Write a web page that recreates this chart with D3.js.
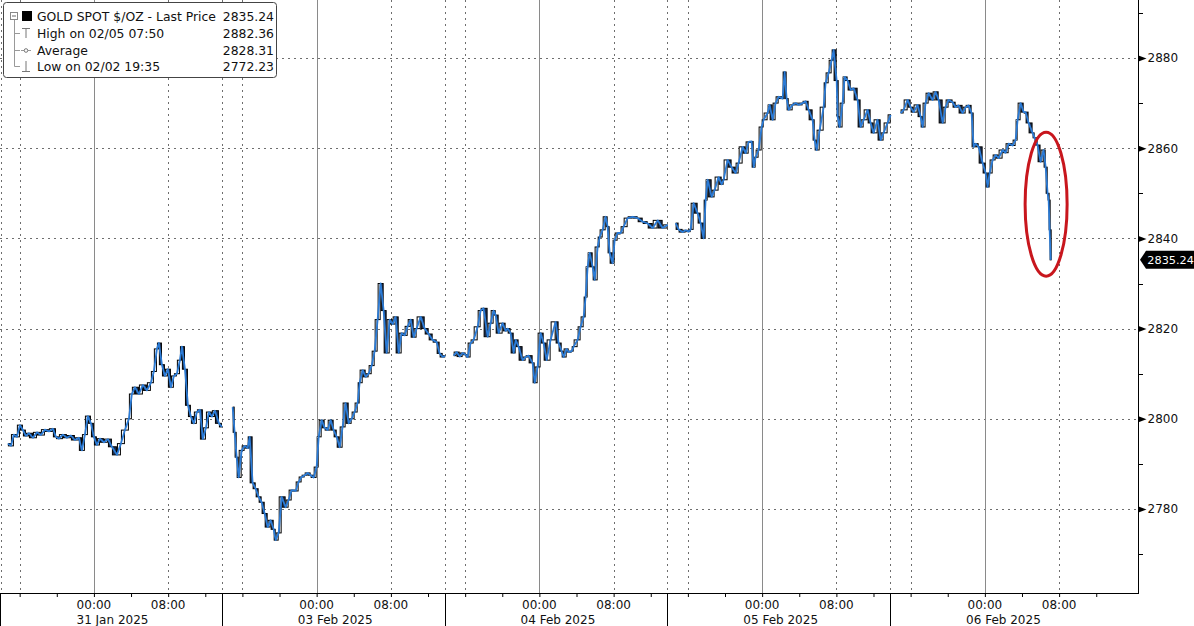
<!DOCTYPE html>
<html><head><meta charset="utf-8">
<script src="https://cdn.jsdelivr.net/npm/d3@7"></script>
<style>
body{margin:0;background:#fff;}
svg{display:block;font-family:"DejaVu Sans",Verdana,sans-serif;}
</style>
</head><body>
<svg id="chart" width="1194" height="626"></svg>
<script>
// ---------------- DATA ----------------
// trading sessions (each opens ~13:48 local of the previous calendar day)
const sessionLabels = ["31 Jan 2025", "03 Feb 2025", "04 Feb 2025", "05 Feb 2025", "06 Feb 2025"];
const hourLabels = ["00:00", "08:00"];
const hourLabelHours = [0, 8];
const yTicks = [2780, 2800, 2820, 2840, 2860, 2880];
const yMinorTicks = [2770, 2790, 2810, 2830, 2850, 2870, 2890];
const legendLabels = ["GOLD SPOT $/OZ - Last Price", "High on 02/05 07:50", "Average", "Low on 02/02 19:35"];
const legendValues = ["2835.24", "2882.36", "2828.31", "2772.23"];
const lastPrice = 2835.24;

// [hours relative to the session's midnight (negative = previous evening), price]
const jan31 = [[-9.27,2794.5],[-8.94,2794],[-8.62,2796.5],[-8.30,2796],[-7.97,2798.6],[-7.65,2797.5],[-7.33,2796.2],[-7.00,2796.8],[-6.57,2795.8],[-6.14,2797],[-5.71,2796.4],[-5.28,2797.6],[-4.85,2797.2],[-4.42,2797.8],[-4.09,2796],[-3.77,2795.6],[-3.34,2796.5],[-2.91,2795.8],[-2.48,2796.3],[-2.05,2795.3],[-1.62,2795.8],[-1.29,2793],[-0.97,2796.5],[-0.65,2800.6],[-0.32,2799],[0,2796],[0.32,2794.2],[0.65,2795.6],[1.08,2794.8],[1.51,2795.5],[1.94,2793.8],[2.48,2792],[2.91,2794.5],[3.34,2797.5],[3.77,2800],[4.09,2805.5],[4.42,2807],[4.85,2805.5],[5.28,2807.5],[5.71,2806.3],[6.14,2808],[6.46,2810.5],[6.79,2815.5],[7.00,2816.8],[7.33,2812],[7.65,2809.5],[7.97,2811],[8.30,2807],[8.62,2809.5],[8.94,2810],[9.27,2813],[9.48,2816],[9.81,2811],[10.13,2803],[10.45,2800.5],[10.77,2799],[11.10,2801.5],[11.42,2802],[11.74,2795.5],[12.07,2798],[12.39,2801.5],[12.71,2800.5],[13.04,2801.8],[13.47,2799],[13.79,2798.2]];
const feb03 = [[-9.05,2802.6],[-8.84,2797],[-8.62,2791.5],[-8.40,2787],[-8.08,2793],[-7.76,2794],[-7.43,2793.5],[-7.22,2796],[-6.90,2785.8],[-6.57,2784.5],[-6.25,2782.7],[-5.93,2781.5],[-5.60,2779],[-5.28,2776],[-4.96,2777.5],[-4.63,2775.5],[-4.42,2773.1],[-4.09,2774.7],[-3.77,2782.7],[-3.34,2780.4],[-3.02,2782],[-2.69,2784.2],[-2.26,2784],[-1.94,2786],[-1.62,2787.1],[-1.29,2787.5],[-0.97,2788],[-0.65,2787.5],[-0.32,2787],[0,2789.3],[0.22,2796],[0.54,2799.7],[0.86,2798],[1.19,2797.5],[1.51,2799.7],[1.83,2797.5],[2.16,2796],[2.48,2793.7],[2.80,2798.2],[3.12,2803.5],[3.45,2799],[3.77,2800],[4.09,2801.5],[4.42,2803.5],[4.63,2808],[4.96,2810.8],[5.28,2809.3],[5.60,2810],[5.93,2811.8],[6.25,2815],[6.57,2822],[6.90,2830],[7.22,2824],[7.54,2814.6],[7.87,2822],[8.19,2821],[8.51,2822.6],[8.84,2814.6],[9.16,2819],[9.48,2818.5],[9.81,2820.5],[10.13,2822],[10.45,2818.1],[10.77,2820],[11.21,2822.6],[11.64,2820],[12.07,2818.8],[12.50,2817.5],[12.93,2817],[13.25,2814.5],[13.58,2813.7],[13.85,2814]];
const feb04 = [[-9.24,2814],[-8.92,2814.8],[-8.59,2813.8],[-8.27,2814.6],[-7.95,2814.2],[-7.73,2813.7],[-7.41,2816.8],[-7.08,2817.5],[-6.65,2820.4],[-6.33,2824],[-6.01,2824.5],[-5.58,2818.2],[-5.25,2821.2],[-4.93,2824],[-4.71,2823],[-4.39,2819],[-3.96,2821.2],[-3.64,2819.5],[-3.42,2820],[-3.10,2819],[-2.77,2814.6],[-2.56,2817.5],[-2.24,2816],[-1.81,2813],[-1.48,2813.7],[-1.16,2814],[-0.73,2812.4],[-0.51,2808],[-0.19,2811.5],[0.13,2819],[0.46,2816.8],[0.78,2813],[1.21,2817.5],[1.75,2821.5],[2.07,2816.8],[2.40,2815],[2.61,2813.7],[2.94,2815.5],[3.15,2814.8],[3.48,2815],[3.69,2816],[4.12,2817.5],[4.44,2820.4],[4.77,2822.6],[4.98,2827],[5.20,2833.7],[5.42,2836.8],[5.74,2833.7],[5.95,2830.8],[6.28,2838.1],[6.49,2840.3],[6.82,2841.9],[7.14,2844.8],[7.35,2842.6],[7.57,2836.8],[7.89,2834.5],[8.11,2839.6],[8.43,2841.2],[8.75,2841.2],[9.08,2842.6],[9.51,2844.5],[10.05,2844.8],[10.59,2844.5],[11.13,2843.7],[11.67,2843.3],[12.21,2842.3],[12.74,2844],[13.28,2842.3],[13.82,2843]];
const feb05 = [[-9.32,2843.4],[-9.00,2842],[-8.57,2841.4],[-8.24,2841.8],[-7.92,2841.5],[-7.70,2842],[-7.38,2847.8],[-6.95,2845.6],[-6.63,2843.4],[-6.30,2840],[-6.09,2848.5],[-5.87,2853],[-5.44,2849.2],[-5.12,2850.7],[-4.69,2853.6],[-4.36,2852],[-4.15,2853],[-3.72,2857.4],[-3.29,2855.8],[-2.86,2854.5],[-2.53,2856.7],[-2.10,2860.3],[-1.78,2858.9],[-1.45,2861.4],[-1.13,2861.5],[-0.92,2855.8],[-0.70,2858],[-0.38,2859.6],[-0.05,2864.7],[0.16,2866.3],[0.59,2867.8],[0.81,2869.6],[1.13,2866.3],[1.45,2870],[1.78,2871.4],[2.21,2871],[2.42,2876.9],[2.64,2871],[2.86,2868.5],[3.29,2869.6],[3.61,2870],[3.93,2869.6],[4.36,2870],[4.69,2870.4],[5.01,2868.5],[5.44,2866.3],[5.66,2861.8],[5.87,2859.6],[6.20,2864],[6.63,2869.1],[6.84,2874.5],[7.17,2876.7],[7.49,2879.5],[7.70,2881.8],[8.03,2875],[8.14,2867],[8.35,2864.7],[8.67,2870],[8.89,2875.8],[9.21,2875],[9.54,2872.9],[9.86,2873.3],[10.29,2870.7],[10.61,2864.7],[10.94,2866.3],[11.37,2868.5],[11.69,2865.6],[12.01,2863.4],[12.44,2866.3],[12.77,2861.8],[13.09,2863.4],[13.52,2865.6],[13.85,2867.4]];
const feb06 = [[-9.08,2867.8],[-8.75,2868.5],[-8.32,2870.7],[-8.00,2869.1],[-7.68,2868],[-7.25,2869.6],[-6.92,2867],[-6.71,2864.7],[-6.39,2870],[-6.06,2872.2],[-5.63,2870.7],[-5.31,2872.5],[-4.98,2870.7],[-4.55,2865.6],[-4.23,2869.1],[-3.91,2870.7],[-3.48,2870.2],[-3.15,2869.1],[-2.83,2869.5],[-2.40,2867.8],[-2.07,2869.1],[-1.75,2869.5],[-1.43,2867.8],[-1.21,2860.3],[-1.00,2861],[-0.67,2860.3],[-0.24,2856.7],[0.08,2854.5],[0.30,2851.4],[0.51,2854.5],[0.84,2857.4],[1.16,2858.5],[1.48,2857.8],[1.91,2859.6],[2.23,2859],[2.56,2861],[2.99,2860.6],[3.31,2861.8],[3.53,2866.3],[3.85,2870],[4.18,2868],[4.39,2868],[4.71,2865.6],[5.14,2863.4],[5.36,2862.3],[5.68,2860.7],[6.00,2857],[6.33,2859.6],[6.55,2855.8],[6.76,2850],[6.87,2848.5],[6.98,2841.9],[7.09,2835.24]];
const seriesBySession = [jan31, feb03, feb04, feb05, feb06];

// ---------------- CHART ----------------
const svg = d3.select("#chart");
const plotR = 1138, plotB = 593;
const OPEN_TO_MIDNIGHT = 10.2;            // hours from session open to 00:00
const tpos = (s, h) => s * 24 + OPEN_TO_MIDNIGHT + h;
const x = d3.scaleLinear().domain([0, 122.7]).range([-0.75, plotR]);
const y = d3.scaleLinear().domain([2761.6, 2892.86]).range([592, 0]);

svg.append("rect").attr("width", 1194).attr("height", 626).attr("fill", "#fff");

const grid = svg.append("g");
grid.selectAll("line.h").data(yTicks).join("line")
  .attr("x1", 0).attr("x2", plotR)
  .attr("y1", d => Math.round(y(d)) + 0.5).attr("y2", d => Math.round(y(d)) + 0.5)
  .attr("stroke", "#6e6e6e").attr("stroke-dasharray", "2,4");

const vDotted = [], vSolid = [];
sessionLabels.forEach((lab, s) => {
  vDotted.push(Math.max(0.5, x(tpos(s, -OPEN_TO_MIDNIGHT))));
  vDotted.push(x(tpos(s, -8)));
  vDotted.push(x(tpos(s, 8)));
  vSolid.push(x(tpos(s, 0)));
});
grid.selectAll("line.vd").data(vDotted).join("line")
  .attr("x1", d => Math.round(d) + 0.5).attr("x2", d => Math.round(d) + 0.5)
  .attr("y1", 0).attr("y2", plotB)
  .attr("stroke", "#6e6e6e").attr("stroke-dasharray", "2,4");
grid.selectAll("line.vs").data(vSolid).join("line")
  .attr("x1", d => Math.round(d) + 0.5).attr("x2", d => Math.round(d) + 0.5)
  .attr("y1", 0).attr("y2", plotB)
  .attr("stroke", "#8a8a8a");

const marks = svg.append("g");
seriesBySession.forEach((data, s) => {
  const bars = [];
  for (let i = 1; i < data.length; i++) {
    bars.push({t0: data[i - 1][0], t1: data[i][0], o: data[i - 1][1], c: data[i][1]});
  }
  marks.append("g").selectAll("rect").data(bars).join("rect")
    .attr("x", d => x(tpos(s, d.t0)) + 0.5)
    .attr("width", d => Math.max(1, x(tpos(s, d.t1)) - x(tpos(s, d.t0)) - 1))
    .attr("y", d => y(Math.max(d.o, d.c)))
    .attr("height", d => Math.max(1, Math.abs(y(d.o) - y(d.c))))
    .attr("fill", d => d.c >= d.o ? "#ffffff" : "#1d2f4f")
    .attr("stroke", "#000").attr("stroke-width", 1);
  marks.append("path").datum(data)
    .attr("fill", "none").attr("stroke", "#2b7bd6").attr("stroke-width", 1.8)
    .attr("stroke-linejoin", "round")
    .attr("d", d3.line().x(d => x(tpos(s, d[0]))).y(d => y(d[1])));
});

svg.append("ellipse")
  .attr("cx", x(tpos(4, 6.6))).attr("cy", y(2847.6))
  .attr("rx", 21).attr("ry", 72)
  .attr("fill", "none").attr("stroke", "#c8161d").attr("stroke-width", 3);

// ---------------- Y AXIS ----------------
const yAxisG = svg.append("g").attr("transform", `translate(${plotR + 0.5},0)`)
  .call(d3.axisRight(y).tickValues(yTicks).tickSize(0).tickPadding(9).tickFormat(d3.format("d")));
yAxisG.select(".domain").remove();
yAxisG.selectAll("text").attr("font-size", 12).attr("fill", "#111")
  .attr("font-family", "DejaVu Sans, sans-serif");
yAxisG.selectAll(".tick").append("path").attr("d", "M0,-3L8,0L0,3Z").attr("fill", "#000");
svg.append("line").attr("x1", plotR + 0.5).attr("x2", plotR + 0.5).attr("y1", 0).attr("y2", plotB + 0.5)
  .attr("stroke", "#000");
svg.selectAll("line.ymin").data(yMinorTicks).join("line")
  .attr("x1", plotR).attr("x2", plotR + 5)
  .attr("y1", d => Math.round(y(d)) + 0.5).attr("y2", d => Math.round(y(d)) + 0.5)
  .attr("stroke", "#000");

// last price tag
const lpY = y(lastPrice);
const tag = svg.append("g").attr("transform", `translate(${plotR + 2},${lpY})`);
tag.append("path").attr("d", "M0,0L6,-9L56,-9L56,9L6,9Z").attr("fill", "#000");
tag.append("text").attr("x", 54).attr("y", 4).attr("fill", "#fff").attr("font-size", 11.3)
  .attr("text-anchor", "end")
  .text(d3.format(".2f")(lastPrice));

// ---------------- X AXIS ----------------
svg.append("line").attr("x1", 0).attr("x2", plotR + 1).attr("y1", plotB + 0.5).attr("y2", plotB + 0.5)
  .attr("stroke", "#000");
const tickTimes = [];
sessionLabels.forEach((lab, s) => [-8, -4, 0, 4, 8, 12].forEach(h => tickTimes.push(tpos(s, h))));
const xAxisG = svg.append("g").attr("transform", `translate(0,${plotB})`)
  .call(d3.axisBottom(x).tickValues(tickTimes).tickSize(4).tickFormat(""));
xAxisG.select(".domain").remove();
xAxisG.selectAll("line").attr("stroke", "#000");

const sepX = sessionLabels.map((lab, s) => Math.max(0.5, Math.round(x(tpos(s, -OPEN_TO_MIDNIGHT))) + 0.5));
svg.selectAll("line.sep").data(sepX).join("line")
  .attr("x1", d => d).attr("x2", d => d).attr("y1", plotB).attr("y2", 626)
  .attr("stroke", "#000");

const xl = svg.append("g").attr("font-size", 12).attr("fill", "#111").attr("text-anchor", "middle");
sessionLabels.forEach((lab, s) => {
  hourLabels.forEach((hl, k) => {
    xl.append("text").attr("x", x(tpos(s, hourLabelHours[k]))).attr("y", 609).text(hl);
  });
  xl.append("text").attr("x", x(tpos(s, 2))).attr("y", 624).text(lab);
});

// ---------------- LEGEND ----------------
const lg = svg.append("g");
lg.append("rect").attr("x", 3.5).attr("y", 2.5).attr("width", 273).attr("height", 75).attr("rx", 3)
  .attr("fill", "#fff").attr("stroke", "#444");
const rowY = [16, 33, 50, 66];
lg.append("path").attr("d", `M14.5,19V${rowY[3]}.5` + rowY.slice(1).map(r => `M14.5,${r}.5H20`).join(""))
  .attr("stroke", "#999").attr("fill", "none");
lg.append("rect").attr("x", 10.5).attr("y", 12.5).attr("width", 7).attr("height", 7).attr("fill", "#fff").attr("stroke", "#888");
lg.append("line").attr("x1", 12).attr("x2", 16).attr("y1", 16).attr("y2", 16).attr("stroke", "#666");
lg.append("rect").attr("x", 22).attr("y", 11).attr("width", 10).attr("height", 10).attr("fill", "#000");
lg.append("path").attr("d", `M22,${rowY[1] - 5}.5H30M26,${rowY[1] - 5}V${rowY[1] + 5}`).attr("stroke", "#777").attr("fill", "none");
lg.append("path").attr("d", `M21,${rowY[2]}.5H31`).attr("stroke", "#999");
lg.append("circle").attr("cx", 26).attr("cy", rowY[2] + 0.5).attr("r", 1.8).attr("fill", "#fff").attr("stroke", "#777");
lg.append("path").attr("d", `M22,${rowY[3] + 5}.5H30M26,${rowY[3] - 5}V${rowY[3] + 5}`).attr("stroke", "#777").attr("fill", "none");
legendLabels.forEach((t, i) => {
  lg.append("text").attr("x", 37).attr("y", rowY[i] + 5).attr("font-size", 12.4).attr("fill", "#111").text(t);
  lg.append("text").attr("x", 274).attr("y", rowY[i] + 5).attr("font-size", 12.4).attr("fill", "#111")
    .attr("text-anchor", "end").text(legendValues[i]);
});
</script>
</body></html>
